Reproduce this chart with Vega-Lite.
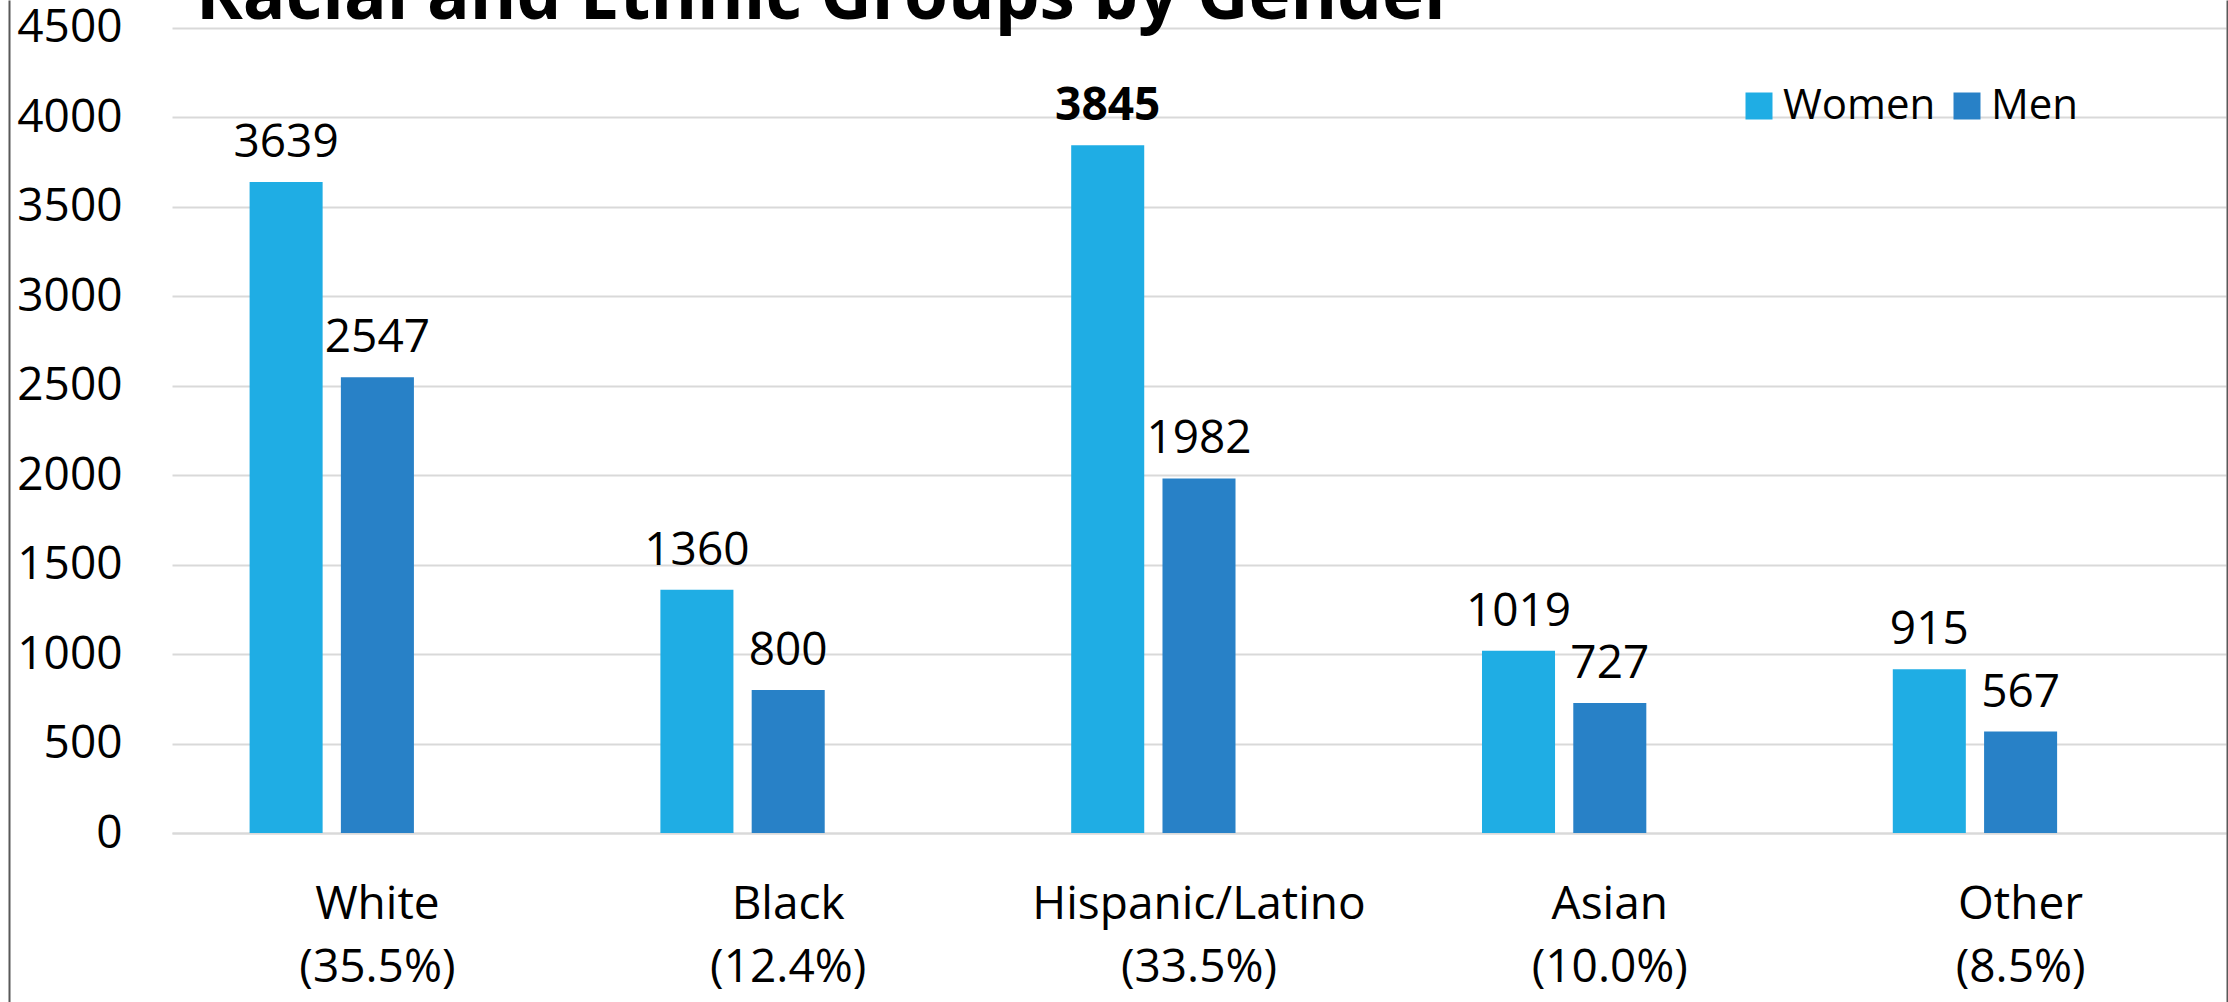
{
  "$schema": "https://vega.github.io/schema/vega-lite/v6.json",
  "autosize": {"type": "none"},
  "padding": {"left": 172, "top": 0, "right": 2, "bottom": 0},
  "width": 2054,
  "height": 1002,
  "background": "white",
  "config": {
    "view": {"stroke": null},
    "font": "Open Sans",
    "text": {"font": "Open Sans"}
  },
  "title": {
    "text": "Racial and Ethnic Groups by Gender",
    "anchor": "start",
    "frame": "group",
    "orient": "top",
    "baseline": "alphabetic",
    "offset": -36,
    "dy": 54,
    "dx": 24,
    "fontSize": 71,
    "fontWeight": "bold",
    "font": "Open Sans",
    "color": "#000000",
    "limit": 0
  },
  "data": {
    "values": [
      {"cat": "White (35.5%)", "gender": "Women", "value": 3639},
      {"cat": "White (35.5%)", "gender": "Men", "value": 2547},
      {"cat": "Black (12.4%)", "gender": "Women", "value": 1360},
      {"cat": "Black (12.4%)", "gender": "Men", "value": 800},
      {"cat": "Hispanic/Latino (33.5%)", "gender": "Women", "value": 3845},
      {"cat": "Hispanic/Latino (33.5%)", "gender": "Men", "value": 1982},
      {"cat": "Asian (10.0%)", "gender": "Women", "value": 1019},
      {"cat": "Asian (10.0%)", "gender": "Men", "value": 727},
      {"cat": "Other (8.5%)", "gender": "Women", "value": 915},
      {"cat": "Other (8.5%)", "gender": "Men", "value": 567}
    ]
  },
  "encoding": {
    "x": {
      "field": "cat", "type": "nominal", "sort": null,
      "scale": {"paddingInner": 0, "paddingOuter": 0},
      "axis": {
        "orient": "bottom", "offset": -169, "title": null,
        "labelAngle": 0, "labelFontSize": 46, "labelColor": "#000000",
        "labelFont": "Open Sans", "labelLimit": 0,
        "labelPadding": 49, "labelLineHeight": 63,
        "ticks": false, "tickSize": 0,
        "domain": true, "domainColor": "#D9D9D9", "domainWidth": 2,
        "grid": false,
        "labelExpr": "[slice(datum.value, 0, indexof(datum.value, ' (')), slice(datum.value, indexof(datum.value, ' (') + 1)]"
      }
    },
    "xOffset": {
      "field": "gender", "type": "nominal",
      "scale": {"domain": ["Women", "Men", "-"], "paddingInner": 0.2, "paddingOuter": 0.85}
    }
  },
  "layer": [
    {
      "mark": {"type": "bar"},
      "encoding": {
        "y": {
          "field": "value", "type": "quantitative",
          "scale": {"domain": [-944.7, 4656.5], "nice": false},
          "axis": {
            "orient": "left", "title": null, "format": "d",
            "values": [0, 500, 1000, 1500, 2000, 2500, 3000, 3500, 4000, 4500],
            "grid": true, "gridColor": "#D9D9D9", "gridWidth": 2,
            "domain": false, "ticks": false, "tickSize": 0,
            "labelPadding": 50, "labelFontSize": 46, "labelColor": "#000000",
            "labelFont": "Open Sans"
          }
        },
        "y2": {"datum": 0},
        "color": {
          "field": "gender", "type": "nominal",
          "scale": {"domain": ["Women", "Men"], "range": ["#1FADE4", "#2881C7"]},
          "legend": {
            "title": null, "orient": "none", "legendX": 1566, "legendY": 85,
            "direction": "horizontal",
            "symbolType": "square", "symbolSize": 729, "symbolStrokeWidth": 0,
            "labelFontSize": 42, "labelColor": "#000000", "labelFont": "Open Sans",
            "labelOffset": 3, "columnPadding": 10
          }
        }
      }
    },
    {
      "transform": [{"filter": "datum.value != 3845"}],
      "mark": {"type": "text", "baseline": "alphabetic", "dy": -25, "fontSize": 46, "color": "#000000", "font": "Open Sans"},
      "encoding": {
        "y": {
          "field": "value", "type": "quantitative",
          "axis": {
            "orient": "left", "offset": 163, "title": null,
            "labels": false, "ticks": false, "grid": false,
            "domain": true, "domainColor": "#595959", "domainWidth": 2
          }
        },
        "text": {"field": "value", "type": "quantitative"}
      }
    },
    {
      "transform": [{"filter": "datum.value == 3845"}],
      "mark": {"type": "text", "baseline": "alphabetic", "dy": -25, "fontSize": 46, "fontWeight": "bold", "color": "#000000", "font": "Open Sans"},
      "encoding": {
        "y": {
          "field": "value", "type": "quantitative",
          "axis": {
            "orient": "right", "offset": 1, "title": null,
            "labels": false, "ticks": false, "grid": false,
            "domain": true, "domainColor": "#595959", "domainWidth": 2
          }
        },
        "text": {"field": "value", "type": "quantitative"}
      }
    }
  ],
  "resolve": {"axis": {"y": "independent"}}
}
